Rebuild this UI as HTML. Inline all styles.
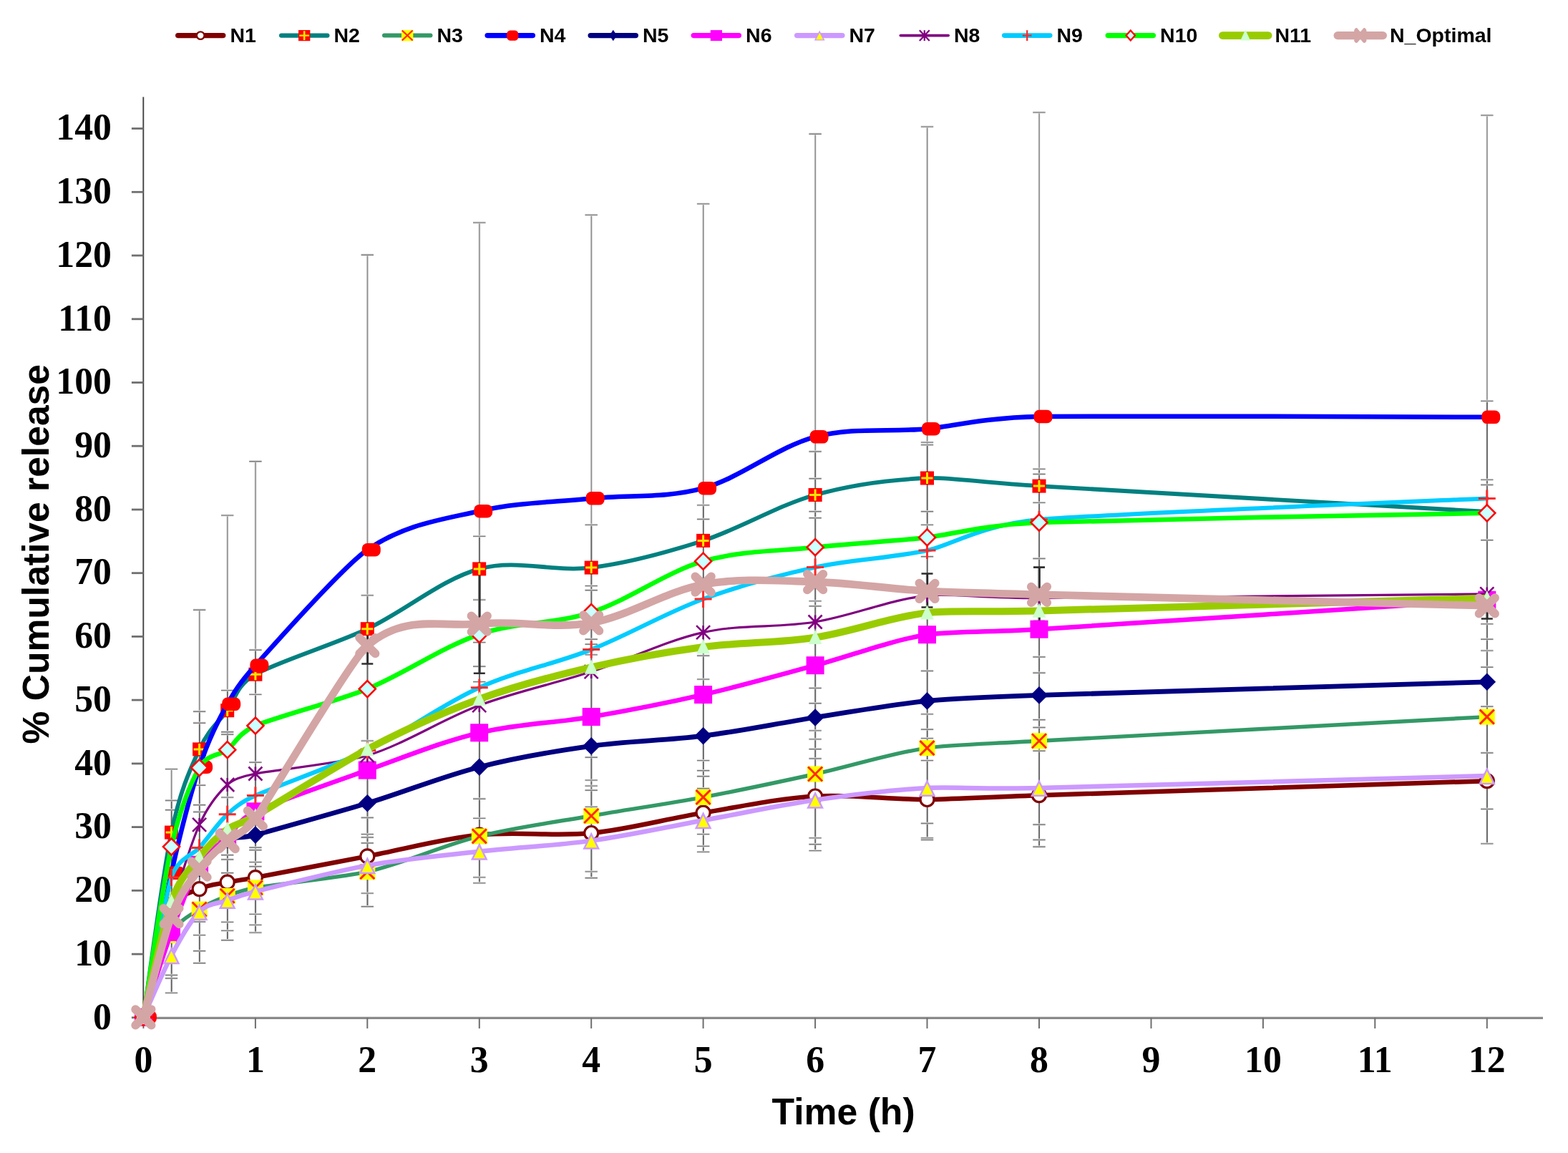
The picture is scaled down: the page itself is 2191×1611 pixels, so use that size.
<!DOCTYPE html>
<html lang="en"><head><meta charset="utf-8"><title>% Cumulative release vs Time (h)</title>
<style>html,body{margin:0;padding:0;background:#fff;}body{width:2191px;height:1611px;overflow:hidden;}svg{display:block;}.ns path,.ns circle{vector-effect:non-scaling-stroke;stroke-width:2.3px;}</style>
</head><body>
<svg width="2191" height="1611" viewBox="0 0 2191 1611">
<rect width="2191" height="1611" fill="#fff"/>
<g fill="none">
<path d="M200.3 135.5V1422.8" stroke-width="1.9" stroke="#424242"/>
<path d="M199.4 1422.3H2156" stroke-width="3.2" stroke="#8a8a8a"/>
<path d="M183.9 1421.8H200.4" stroke-width="2.8" stroke="#6f6f6f"/>
<path d="M183.9 1333.1H200.4" stroke-width="2.8" stroke="#6f6f6f"/>
<path d="M183.9 1244.3H200.4" stroke-width="2.8" stroke="#6f6f6f"/>
<path d="M183.9 1155.6H200.4" stroke-width="2.8" stroke="#6f6f6f"/>
<path d="M183.9 1066.9H200.4" stroke-width="2.8" stroke="#6f6f6f"/>
<path d="M183.9 978.1H200.4" stroke-width="2.8" stroke="#6f6f6f"/>
<path d="M183.9 889.4H200.4" stroke-width="2.8" stroke="#6f6f6f"/>
<path d="M183.9 800.7H200.4" stroke-width="2.8" stroke="#6f6f6f"/>
<path d="M183.9 712.0H200.4" stroke-width="2.8" stroke="#6f6f6f"/>
<path d="M183.9 623.2H200.4" stroke-width="2.8" stroke="#6f6f6f"/>
<path d="M183.9 534.5H200.4" stroke-width="2.8" stroke="#6f6f6f"/>
<path d="M183.9 445.8H200.4" stroke-width="2.8" stroke="#6f6f6f"/>
<path d="M183.9 357.0H200.4" stroke-width="2.8" stroke="#6f6f6f"/>
<path d="M183.9 268.3H200.4" stroke-width="2.8" stroke="#6f6f6f"/>
<path d="M183.9 179.6H200.4" stroke-width="2.8" stroke="#6f6f6f"/>
<path d="M200.4 1422.3V1437.0" stroke-width="2" stroke="#6e6e6e"/>
<path d="M356.9 1422.3V1437.0" stroke-width="2" stroke="#6e6e6e"/>
<path d="M513.3 1422.3V1437.0" stroke-width="2" stroke="#6e6e6e"/>
<path d="M669.8 1422.3V1437.0" stroke-width="2" stroke="#6e6e6e"/>
<path d="M826.2 1422.3V1437.0" stroke-width="2" stroke="#6e6e6e"/>
<path d="M982.6 1422.3V1437.0" stroke-width="2" stroke="#6e6e6e"/>
<path d="M1139.1 1422.3V1437.0" stroke-width="2" stroke="#6e6e6e"/>
<path d="M1295.5 1422.3V1437.0" stroke-width="2" stroke="#6e6e6e"/>
<path d="M1452.0 1422.3V1437.0" stroke-width="2" stroke="#6e6e6e"/>
<path d="M1608.5 1422.3V1437.0" stroke-width="2" stroke="#6e6e6e"/>
<path d="M1764.9 1422.3V1437.0" stroke-width="2" stroke="#6e6e6e"/>
<path d="M1921.3 1422.3V1437.0" stroke-width="2" stroke="#6e6e6e"/>
<path d="M2077.8 1422.3V1437.0" stroke-width="2" stroke="#6e6e6e"/>
</g>
<g font-family="'Liberation Serif','Times New Roman',serif" font-weight="bold" font-size="51.8" fill="#000">
<text x="156" y="1437.5" text-anchor="end">0</text>
<text x="156" y="1348.8" text-anchor="end">10</text>
<text x="156" y="1260.0" text-anchor="end">20</text>
<text x="156" y="1171.3" text-anchor="end">30</text>
<text x="156" y="1082.6" text-anchor="end">40</text>
<text x="156" y="993.9" text-anchor="end">50</text>
<text x="156" y="905.1" text-anchor="end">60</text>
<text x="156" y="816.4" text-anchor="end">70</text>
<text x="156" y="727.7" text-anchor="end">80</text>
<text x="156" y="638.9" text-anchor="end">90</text>
<text x="156" y="550.2" text-anchor="end">100</text>
<text x="156" y="461.5" text-anchor="end">110</text>
<text x="156" y="372.7" text-anchor="end">120</text>
<text x="156" y="284.0" text-anchor="end">130</text>
<text x="156" y="195.3" text-anchor="end">140</text>
<text x="200.4" y="1498.3" text-anchor="middle">0</text>
<text x="356.9" y="1498.3" text-anchor="middle">1</text>
<text x="513.3" y="1498.3" text-anchor="middle">2</text>
<text x="669.8" y="1498.3" text-anchor="middle">3</text>
<text x="826.2" y="1498.3" text-anchor="middle">4</text>
<text x="982.6" y="1498.3" text-anchor="middle">5</text>
<text x="1139.1" y="1498.3" text-anchor="middle">6</text>
<text x="1295.5" y="1498.3" text-anchor="middle">7</text>
<text x="1452.0" y="1498.3" text-anchor="middle">8</text>
<text x="1608.5" y="1498.3" text-anchor="middle">9</text>
<text x="1764.9" y="1498.3" text-anchor="middle">10</text>
<text x="1921.3" y="1498.3" text-anchor="middle">11</text>
<text x="2077.8" y="1498.3" text-anchor="middle">12</text>
</g>
<g font-family="'Liberation Sans',Arial,sans-serif" font-weight="bold" fill="#000">
<text x="1178.6" y="1571" font-size="51.7" text-anchor="middle">Time (h)</text>
<text transform="translate(68,774.3) rotate(-90)" font-size="51.6" text-anchor="middle">% Cumulative release</text>
</g>
<g fill="none"><path d="M239.5 1074.8V1387.6M278.6 852.5V1345.9M317.7 720.3V1313.9M356.9 644.9V1303.3M513.3 356.5V1266.9M669.8 311.3V1234.1M826.2 300.6V1227.0M982.6 285.1V1190.6M1139.1 187.4V1188.8M1295.5 177.3V1173.7M1452.0 157.3V1183.5M2077.8 161.3V1179.1" stroke="#dadada" stroke-width="2.8"/><path d="M239.5 1074.8V1387.6M278.6 852.5V1345.9M317.7 720.3V1313.9M356.9 644.9V1303.3M513.3 356.5V1266.9M669.8 311.3V1234.1M826.2 300.6V1227.0M982.6 285.1V1190.6M1139.1 187.4V1188.8M1295.5 177.3V1173.7M1452.0 157.3V1183.5M2077.8 161.3V1179.1" stroke="#8e8e8e" stroke-width="1.5" transform="translate(0.2,0)"/><path d="M239.5 1118.7V1387.6M278.6 994.5V1345.9M317.7 964.8V1313.9M356.9 908.4V1303.3M513.3 832.1V1266.9M669.8 749.6V1234.1M826.2 733.6V1227.0M982.6 706.1V1190.6M1139.1 631.2V1188.8M1295.5 618.3V1173.7M1452.0 655.6V1183.5M2077.8 560.6V1179.1" stroke="#636363" stroke-width="1.6" transform="translate(0.2,0)"/><path d="M230.8 1074.8H248.2M230.8 1118.7H248.2M230.8 1132.0H248.2M230.8 1362.7H248.2M230.8 1367.2H248.2M230.8 1387.6H248.2M269.9 852.5H287.3M269.9 994.5H287.3M269.9 1010.5H287.3M269.9 1097.4H287.3M269.9 1124.9H287.3M269.9 1134.7H287.3M269.9 1288.2H287.3M269.9 1306.8H287.3M269.9 1329.0H287.3M269.9 1345.9H287.3M309.0 720.3H326.4M309.0 964.8H326.4M309.0 1022.9H326.4M309.0 1026.5H326.4M309.0 1114.3H326.4M309.0 1195.0H326.4M309.0 1201.2H326.4M309.0 1219.9H326.4M309.0 1288.6H326.4M309.0 1300.6H326.4M309.0 1313.9H326.4M348.2 644.9H365.6M348.2 908.4H365.6M348.2 970.6H365.6M348.2 1065.5H365.6M348.2 1184.4H365.6M348.2 1187.9H365.6M348.2 1204.8H365.6M348.2 1211.0H365.6M348.2 1277.6H365.6M348.2 1292.6H365.6M348.2 1303.3H365.6M504.6 356.5H522.0M504.6 832.1H522.0M504.6 1035.3H522.0M504.6 1142.7H522.0M504.6 1165.8H522.0M504.6 1170.2H522.0M504.6 1178.2H522.0M504.6 1248.3H522.0M504.6 1266.9H522.0M661.0 311.3H678.5M661.0 749.6H678.5M661.0 838.3H678.5M661.0 897.8H678.5M661.0 931.5H678.5M661.0 952.8H678.5M661.0 1116.5H678.5M661.0 1143.6H678.5M661.0 1226.1H678.5M661.0 1234.1H678.5M817.5 300.6H834.9M817.5 733.6H834.9M817.5 818.8H834.9M817.5 825.0H834.9M817.5 893.4H834.9M817.5 900.5H834.9M817.5 915.1H834.9M817.5 1058.4H834.9M817.5 1090.3H834.9M817.5 1098.3H834.9M817.5 1104.5H834.9M817.5 1127.6H834.9M817.5 1218.1H834.9M817.5 1227.0H834.9M973.9 285.1H991.4M973.9 706.1H991.4M973.9 725.7H991.4M973.9 916.4H991.4M973.9 949.3H991.4M973.9 1062.8H991.4M973.9 1077.0H991.4M973.9 1085.0H991.4M973.9 1101.9H991.4M973.9 1165.8H991.4M973.9 1182.6H991.4M973.9 1190.6H991.4M1130.4 187.4H1147.8M1130.4 631.2H1147.8M1130.4 668.9H1147.8M1130.4 715.0H1147.8M1130.4 723.9H1147.8M1130.4 840.1H1147.8M1130.4 847.2H1147.8M1130.4 961.7H1147.8M1130.4 983.0H1147.8M1130.4 1021.1H1147.8M1130.4 1033.1H1147.8M1130.4 1046.9H1147.8M1130.4 1060.2H1147.8M1130.4 1171.1H1147.8M1130.4 1180.0H1147.8M1130.4 1188.8H1147.8M1286.8 177.3H1304.2M1286.8 618.3H1304.2M1286.8 621.8H1304.2M1286.8 715.0H1304.2M1286.8 733.6H1304.2M1286.8 778.0H1304.2M1286.8 937.7H1304.2M1286.8 998.1H1304.2M1286.8 1019.4H1304.2M1286.8 1031.8H1304.2M1286.8 1062.8H1304.2M1286.8 1150.7H1304.2M1286.8 1171.1H1304.2M1286.8 1173.7H1304.2M1443.3 157.3H1460.7M1443.3 655.6H1460.7M1443.3 662.7H1460.7M1443.3 702.6H1460.7M1443.3 780.7H1460.7M1443.3 918.2H1460.7M1443.3 940.4H1460.7M1443.3 1006.0H1460.7M1443.3 1016.7H1460.7M1443.3 1049.5H1460.7M1443.3 1152.4H1460.7M1443.3 1173.7H1460.7M1443.3 1183.5H1460.7M2069.1 161.3H2086.5M2069.1 560.6H2086.5M2069.1 670.6H2086.5M2069.1 677.7H2086.5M2069.1 754.9H2086.5M2069.1 872.1H2086.5M2069.1 893.4H2086.5M2069.1 909.3H2086.5M2069.1 932.4H2086.5M2069.1 987.4H2086.5M2069.1 1052.2H2086.5M2069.1 1130.7H2086.5M2069.1 1179.1H2086.5" stroke="#dedede" stroke-width="3" transform="translate(0,-0.4)"/><path d="M230.8 1074.8H248.2M230.8 1118.7H248.2M230.8 1132.0H248.2M230.8 1362.7H248.2M230.8 1367.2H248.2M230.8 1387.6H248.2M269.9 852.5H287.3M269.9 994.5H287.3M269.9 1010.5H287.3M269.9 1097.4H287.3M269.9 1124.9H287.3M269.9 1134.7H287.3M269.9 1288.2H287.3M269.9 1306.8H287.3M269.9 1329.0H287.3M269.9 1345.9H287.3M309.0 720.3H326.4M309.0 964.8H326.4M309.0 1022.9H326.4M309.0 1026.5H326.4M309.0 1114.3H326.4M309.0 1195.0H326.4M309.0 1201.2H326.4M309.0 1219.9H326.4M309.0 1288.6H326.4M309.0 1300.6H326.4M309.0 1313.9H326.4M348.2 644.9H365.6M348.2 908.4H365.6M348.2 970.6H365.6M348.2 1065.5H365.6M348.2 1184.4H365.6M348.2 1187.9H365.6M348.2 1204.8H365.6M348.2 1211.0H365.6M348.2 1277.6H365.6M348.2 1292.6H365.6M348.2 1303.3H365.6M504.6 356.5H522.0M504.6 832.1H522.0M504.6 1035.3H522.0M504.6 1142.7H522.0M504.6 1165.8H522.0M504.6 1170.2H522.0M504.6 1178.2H522.0M504.6 1248.3H522.0M504.6 1266.9H522.0M661.0 311.3H678.5M661.0 749.6H678.5M661.0 838.3H678.5M661.0 897.8H678.5M661.0 931.5H678.5M661.0 952.8H678.5M661.0 1116.5H678.5M661.0 1143.6H678.5M661.0 1226.1H678.5M661.0 1234.1H678.5M817.5 300.6H834.9M817.5 733.6H834.9M817.5 818.8H834.9M817.5 825.0H834.9M817.5 893.4H834.9M817.5 900.5H834.9M817.5 915.1H834.9M817.5 1058.4H834.9M817.5 1090.3H834.9M817.5 1098.3H834.9M817.5 1104.5H834.9M817.5 1127.6H834.9M817.5 1218.1H834.9M817.5 1227.0H834.9M973.9 285.1H991.4M973.9 706.1H991.4M973.9 725.7H991.4M973.9 916.4H991.4M973.9 949.3H991.4M973.9 1062.8H991.4M973.9 1077.0H991.4M973.9 1085.0H991.4M973.9 1101.9H991.4M973.9 1165.8H991.4M973.9 1182.6H991.4M973.9 1190.6H991.4M1130.4 187.4H1147.8M1130.4 631.2H1147.8M1130.4 668.9H1147.8M1130.4 715.0H1147.8M1130.4 723.9H1147.8M1130.4 840.1H1147.8M1130.4 847.2H1147.8M1130.4 961.7H1147.8M1130.4 983.0H1147.8M1130.4 1021.1H1147.8M1130.4 1033.1H1147.8M1130.4 1046.9H1147.8M1130.4 1060.2H1147.8M1130.4 1171.1H1147.8M1130.4 1180.0H1147.8M1130.4 1188.8H1147.8M1286.8 177.3H1304.2M1286.8 618.3H1304.2M1286.8 621.8H1304.2M1286.8 715.0H1304.2M1286.8 733.6H1304.2M1286.8 778.0H1304.2M1286.8 937.7H1304.2M1286.8 998.1H1304.2M1286.8 1019.4H1304.2M1286.8 1031.8H1304.2M1286.8 1062.8H1304.2M1286.8 1150.7H1304.2M1286.8 1171.1H1304.2M1286.8 1173.7H1304.2M1443.3 157.3H1460.7M1443.3 655.6H1460.7M1443.3 662.7H1460.7M1443.3 702.6H1460.7M1443.3 780.7H1460.7M1443.3 918.2H1460.7M1443.3 940.4H1460.7M1443.3 1006.0H1460.7M1443.3 1016.7H1460.7M1443.3 1049.5H1460.7M1443.3 1152.4H1460.7M1443.3 1173.7H1460.7M1443.3 1183.5H1460.7M2069.1 161.3H2086.5M2069.1 560.6H2086.5M2069.1 670.6H2086.5M2069.1 677.7H2086.5M2069.1 754.9H2086.5M2069.1 872.1H2086.5M2069.1 893.4H2086.5M2069.1 909.3H2086.5M2069.1 932.4H2086.5M2069.1 987.4H2086.5M2069.1 1052.2H2086.5M2069.1 1130.7H2086.5M2069.1 1179.1H2086.5" stroke="#7c7c7c" stroke-width="1.4" transform="translate(0,-0.2)"/><path d="M513.3 876.5V928.0M669.8 800.2V941.3M1295.5 802.0V849.0M1452.0 793.1V868.5M2077.8 827.7V865.0" stroke="#666" stroke-width="3.2"/><path d="M513.3 876.5V928.0M669.8 800.2V941.3M1295.5 802.0V849.0M1452.0 793.1V868.5M2077.8 827.7V865.0" stroke="#1c1c1c" stroke-width="1.8" transform="translate(0.7,0)"/><path d="M505.3 876.5H521.3M505.3 928.0H521.3M661.8 800.2H677.8M661.8 941.3H677.8M1287.5 802.0H1303.5M1287.5 849.0H1303.5M1444.0 793.1H1460.0M1444.0 868.5H1460.0M2069.8 827.7H2085.8M2069.8 865.0H2085.8" stroke="#2e2e2e" stroke-width="2.6" transform="translate(0,-0.5)"/></g>
<g><path d="M200.4 1421.3 C205.2 1402.7 229.8 1292.6 239.5 1270.5 C249.2 1248.3 269.0 1246.7 278.6 1242.1 C291.7 1235.8 304.7 1235.4 317.7 1232.7 C325.5 1231.2 337.3 1229.7 356.9 1226.1 C376.4 1222.5 482.1 1202.3 513.3 1196.4 C565.4 1186.5 617.6 1172.0 669.8 1166.6 C721.9 1161.2 774.0 1169.2 826.2 1164.0 C878.3 1158.8 930.5 1144.2 982.6 1135.6 C1034.8 1127.0 1086.9 1115.6 1139.1 1112.5 C1191.2 1109.4 1243.4 1117.2 1295.5 1117.0 C1326.8 1116.8 1373.8 1113.8 1452.0 1111.2 C1530.2 1108.6 2015.2 1093.2 2077.8 1091.2" stroke="#800000" stroke-width="6.5" fill="none" stroke-linecap="round" stroke-linejoin="round"/><circle cx="200.4" cy="1421.3" r="9.5" fill="#fff" stroke="#800000" stroke-width="3.2"/><circle cx="239.5" cy="1270.5" r="9.5" fill="#fff" stroke="#800000" stroke-width="3.2"/><circle cx="278.6" cy="1242.1" r="9.5" fill="#fff" stroke="#800000" stroke-width="3.2"/><circle cx="317.7" cy="1232.7" r="9.5" fill="#fff" stroke="#800000" stroke-width="3.2"/><circle cx="356.9" cy="1226.1" r="9.5" fill="#fff" stroke="#800000" stroke-width="3.2"/><circle cx="513.3" cy="1196.4" r="9.5" fill="#fff" stroke="#800000" stroke-width="3.2"/><circle cx="669.8" cy="1166.6" r="9.5" fill="#fff" stroke="#800000" stroke-width="3.2"/><circle cx="826.2" cy="1164.0" r="9.5" fill="#fff" stroke="#800000" stroke-width="3.2"/><circle cx="982.6" cy="1135.6" r="9.5" fill="#fff" stroke="#800000" stroke-width="3.2"/><circle cx="1139.1" cy="1112.5" r="9.5" fill="#fff" stroke="#800000" stroke-width="3.2"/><circle cx="1295.5" cy="1117.0" r="9.5" fill="#fff" stroke="#800000" stroke-width="3.2"/><circle cx="1452.0" cy="1111.2" r="9.5" fill="#fff" stroke="#800000" stroke-width="3.2"/><circle cx="2077.8" cy="1091.2" r="9.5" fill="#fff" stroke="#800000" stroke-width="3.2"/></g>
<g><path d="M200.4 1421.3 C206.7 1379.9 227.0 1223.1 239.5 1163.1 C252.1 1103.1 266.1 1074.2 278.6 1046.9 C291.7 1018.5 304.7 1010.2 317.7 992.7 C328.8 977.9 329.2 958.3 356.9 942.2 C384.5 926.1 469.1 899.5 513.3 878.7 C565.4 854.2 617.6 809.1 669.8 794.9 C721.9 780.6 774.0 799.7 826.2 793.1 C878.3 786.5 930.5 772.3 982.6 755.4 C1034.8 738.4 1086.9 706.1 1139.1 691.5 C1191.2 676.9 1243.4 670.1 1295.5 668.0 C1326.9 666.7 1373.7 674.4 1452.0 679.1 C1530.3 683.8 2015.2 711.4 2077.8 715.0" stroke="#008080" stroke-width="5.8" fill="none" stroke-linecap="round" stroke-linejoin="round"/><rect x="190.9" y="1411.8" width="19.0" height="19.0" fill="#ff0000"/><path d="M192.4 1421.3H208.4M200.4 1413.3V1429.3" stroke="#ffe600" stroke-width="3.0" fill="none"/><rect x="230.0" y="1153.6" width="19.0" height="19.0" fill="#ff0000"/><path d="M231.5 1163.1H247.5M239.5 1155.1V1171.1" stroke="#ffe600" stroke-width="3.0" fill="none"/><rect x="269.1" y="1037.4" width="19.0" height="19.0" fill="#ff0000"/><path d="M270.6 1046.9H286.6M278.6 1038.9V1054.9" stroke="#ffe600" stroke-width="3.0" fill="none"/><rect x="308.2" y="983.2" width="19.0" height="19.0" fill="#ff0000"/><path d="M309.7 992.7H325.7M317.7 984.7V1000.7" stroke="#ffe600" stroke-width="3.0" fill="none"/><rect x="347.4" y="932.7" width="19.0" height="19.0" fill="#ff0000"/><path d="M348.9 942.2H364.9M356.9 934.2V950.2" stroke="#ffe600" stroke-width="3.0" fill="none"/><rect x="503.8" y="869.2" width="19.0" height="19.0" fill="#ff0000"/><path d="M505.3 878.7H521.3M513.3 870.7V886.7" stroke="#ffe600" stroke-width="3.0" fill="none"/><rect x="660.2" y="785.4" width="19.0" height="19.0" fill="#ff0000"/><path d="M661.8 794.9H677.8M669.8 786.9V802.9" stroke="#ffe600" stroke-width="3.0" fill="none"/><rect x="816.7" y="783.6" width="19.0" height="19.0" fill="#ff0000"/><path d="M818.2 793.1H834.2M826.2 785.1V801.1" stroke="#ffe600" stroke-width="3.0" fill="none"/><rect x="973.1" y="745.9" width="19.0" height="19.0" fill="#ff0000"/><path d="M974.6 755.4H990.6M982.6 747.4V763.4" stroke="#ffe600" stroke-width="3.0" fill="none"/><rect x="1129.6" y="682.0" width="19.0" height="19.0" fill="#ff0000"/><path d="M1131.1 691.5H1147.1M1139.1 683.5V699.5" stroke="#ffe600" stroke-width="3.0" fill="none"/><rect x="1286.0" y="658.5" width="19.0" height="19.0" fill="#ff0000"/><path d="M1287.5 668.0H1303.5M1295.5 660.0V676.0" stroke="#ffe600" stroke-width="3.0" fill="none"/><rect x="1442.5" y="669.6" width="19.0" height="19.0" fill="#ff0000"/><path d="M1444.0 679.1H1460.0M1452.0 671.1V687.1" stroke="#ffe600" stroke-width="3.0" fill="none"/></g>
<g><path d="M200.4 1421.3 C206.5 1403.3 227.2 1330.5 239.5 1306.8 C251.8 1283.1 266.3 1279.1 278.6 1270.5 C291.7 1261.3 304.7 1256.9 317.7 1251.8 C325.8 1248.7 336.8 1243.8 356.9 1240.3 C376.9 1236.8 481.2 1225.5 513.3 1218.1 C565.4 1206.1 617.6 1181.4 669.8 1168.4 C721.9 1155.4 774.0 1149.1 826.2 1140.0 C878.3 1130.9 930.5 1123.6 982.6 1113.9 C1034.8 1104.1 1086.9 1092.9 1139.1 1081.5 C1191.2 1070.0 1243.4 1052.8 1295.5 1045.1 C1326.9 1040.5 1373.7 1039.7 1452.0 1035.3 C1530.3 1031.0 2015.2 1005.0 2077.8 1001.6" stroke="#339966" stroke-width="5.4" fill="none" stroke-linecap="round" stroke-linejoin="round"/><rect x="189.4" y="1410.3" width="22.0" height="22.0" fill="#ffff00"/><path d="M190.4 1411.3L210.4 1431.3M190.4 1431.3L210.4 1411.3" stroke="#ff2a00" stroke-width="3.0" fill="none"/><rect x="228.5" y="1295.8" width="22.0" height="22.0" fill="#ffff00"/><path d="M229.5 1296.8L249.5 1316.8M229.5 1316.8L249.5 1296.8" stroke="#ff2a00" stroke-width="3.0" fill="none"/><rect x="267.6" y="1259.5" width="22.0" height="22.0" fill="#ffff00"/><path d="M268.6 1260.5L288.6 1280.5M268.6 1280.5L288.6 1260.5" stroke="#ff2a00" stroke-width="3.0" fill="none"/><rect x="306.7" y="1240.8" width="22.0" height="22.0" fill="#ffff00"/><path d="M307.7 1241.8L327.7 1261.8M307.7 1261.8L327.7 1241.8" stroke="#ff2a00" stroke-width="3.0" fill="none"/><rect x="345.9" y="1229.3" width="22.0" height="22.0" fill="#ffff00"/><path d="M346.9 1230.3L366.9 1250.3M346.9 1250.3L366.9 1230.3" stroke="#ff2a00" stroke-width="3.0" fill="none"/><rect x="502.3" y="1207.1" width="22.0" height="22.0" fill="#ffff00"/><path d="M503.3 1208.1L523.3 1228.1M503.3 1228.1L523.3 1208.1" stroke="#ff2a00" stroke-width="3.0" fill="none"/><rect x="658.8" y="1157.4" width="22.0" height="22.0" fill="#ffff00"/><path d="M659.8 1158.4L679.8 1178.4M659.8 1178.4L679.8 1158.4" stroke="#ff2a00" stroke-width="3.0" fill="none"/><rect x="815.2" y="1129.0" width="22.0" height="22.0" fill="#ffff00"/><path d="M816.2 1130.0L836.2 1150.0M816.2 1150.0L836.2 1130.0" stroke="#ff2a00" stroke-width="3.0" fill="none"/><rect x="971.6" y="1102.9" width="22.0" height="22.0" fill="#ffff00"/><path d="M972.6 1103.9L992.6 1123.9M972.6 1123.9L992.6 1103.9" stroke="#ff2a00" stroke-width="3.0" fill="none"/><rect x="1128.1" y="1070.5" width="22.0" height="22.0" fill="#ffff00"/><path d="M1129.1 1071.5L1149.1 1091.5M1129.1 1091.5L1149.1 1071.5" stroke="#ff2a00" stroke-width="3.0" fill="none"/><rect x="1284.5" y="1034.1" width="22.0" height="22.0" fill="#ffff00"/><path d="M1285.5 1035.1L1305.5 1055.1M1285.5 1055.1L1305.5 1035.1" stroke="#ff2a00" stroke-width="3.0" fill="none"/><rect x="1441.0" y="1024.3" width="22.0" height="22.0" fill="#ffff00"/><path d="M1442.0 1025.3L1462.0 1045.3M1442.0 1045.3L1462.0 1025.3" stroke="#ff2a00" stroke-width="3.0" fill="none"/><rect x="2066.8" y="990.6" width="22.0" height="22.0" fill="#ffff00"/><path d="M2067.8 991.6L2087.8 1011.6M2067.8 1011.6L2087.8 991.6" stroke="#ff2a00" stroke-width="3.0" fill="none"/></g>
<g><path d="M200.4 1421.3 C206.9 1387.7 226.5 1278.1 239.5 1219.9 C252.5 1161.6 265.6 1111.0 278.6 1071.7 C291.7 1032.4 304.7 1007.5 317.7 983.9 C326.7 967.6 334.4 954.5 356.9 929.7 C379.3 905.0 477.4 793.0 513.3 768.2 C565.4 732.3 617.6 726.1 669.8 714.1 C721.9 702.1 774.0 701.7 826.2 696.4 C878.3 691.1 930.5 696.5 982.6 682.2 C1034.8 667.8 1086.9 624.1 1139.1 610.3 C1191.2 596.5 1243.4 603.9 1295.5 599.2 C1327.0 596.4 1373.3 583.6 1452.0 581.9 C1530.7 580.3 2014.9 582.7 2077.8 582.8" stroke="#0000ff" stroke-width="6.5" fill="none" stroke-linecap="round" stroke-linejoin="round"/><rect x="192.9" y="1412.0" width="26.0" height="18.5" rx="7.5" fill="#ff0000"/><rect x="232.0" y="1210.6" width="26.0" height="18.5" rx="7.5" fill="#ff0000"/><rect x="271.1" y="1062.5" width="26.0" height="18.5" rx="7.5" fill="#ff0000"/><rect x="310.2" y="974.6" width="26.0" height="18.5" rx="7.5" fill="#ff0000"/><rect x="349.4" y="920.5" width="26.0" height="18.5" rx="7.5" fill="#ff0000"/><rect x="505.8" y="759.0" width="26.0" height="18.5" rx="7.5" fill="#ff0000"/><rect x="662.2" y="704.9" width="26.0" height="18.5" rx="7.5" fill="#ff0000"/><rect x="818.7" y="687.1" width="26.0" height="18.5" rx="7.5" fill="#ff0000"/><rect x="975.1" y="672.9" width="26.0" height="18.5" rx="7.5" fill="#ff0000"/><rect x="1131.6" y="601.1" width="26.0" height="18.5" rx="7.5" fill="#ff0000"/><rect x="1288.0" y="590.0" width="26.0" height="18.5" rx="7.5" fill="#ff0000"/><rect x="1444.5" y="572.7" width="26.0" height="18.5" rx="7.5" fill="#ff0000"/><rect x="2070.3" y="573.6" width="26.0" height="18.5" rx="7.5" fill="#ff0000"/></g>
<g><path d="M200.4 1421.3 C206.9 1397.3 226.5 1312.2 239.5 1277.6 C252.5 1242.9 265.6 1230.6 278.6 1213.2 C291.7 1195.9 304.7 1181.1 317.7 1173.3 C325.4 1168.7 337.7 1171.7 356.9 1166.6 C376.0 1161.6 482.6 1131.6 513.3 1122.3 C565.4 1106.5 617.6 1085.0 669.8 1071.7 C721.9 1058.4 774.0 1049.7 826.2 1042.4 C878.3 1035.2 930.5 1034.9 982.6 1028.2 C1034.8 1021.6 1086.9 1010.6 1139.1 1002.5 C1191.2 994.4 1243.4 984.6 1295.5 979.4 C1326.9 976.3 1373.7 974.1 1452.0 971.4 C1530.3 968.8 2015.2 954.7 2077.8 952.8" stroke="#000080" stroke-width="6.8" fill="none" stroke-linecap="round" stroke-linejoin="round"/><path d="M200.4 1409.0L212.7 1421.3L200.4 1433.6L188.1 1421.3Z" fill="#000080"/><path d="M239.5 1265.3L251.8 1277.6L239.5 1289.9L227.2 1277.6Z" fill="#000080"/><path d="M278.6 1200.9L290.9 1213.2L278.6 1225.5L266.3 1213.2Z" fill="#000080"/><path d="M317.7 1161.0L330.0 1173.3L317.7 1185.6L305.4 1173.3Z" fill="#000080"/><path d="M356.9 1154.3L369.2 1166.6L356.9 1178.9L344.6 1166.6Z" fill="#000080"/><path d="M513.3 1110.0L525.6 1122.3L513.3 1134.6L501.0 1122.3Z" fill="#000080"/><path d="M669.8 1059.4L682.0 1071.7L669.8 1084.0L657.5 1071.7Z" fill="#000080"/><path d="M826.2 1030.1L838.5 1042.4L826.2 1054.7L813.9 1042.4Z" fill="#000080"/><path d="M982.6 1015.9L994.9 1028.2L982.6 1040.5L970.4 1028.2Z" fill="#000080"/><path d="M1139.1 990.2L1151.4 1002.5L1139.1 1014.8L1126.8 1002.5Z" fill="#000080"/><path d="M1295.5 967.1L1307.8 979.4L1295.5 991.7L1283.2 979.4Z" fill="#000080"/><path d="M1452.0 959.1L1464.3 971.4L1452.0 983.7L1439.7 971.4Z" fill="#000080"/><path d="M2077.8 940.5L2090.1 952.8L2077.8 965.1L2065.5 952.8Z" fill="#000080"/></g>
<g><path d="M200.4 1421.3 C206.9 1401.5 226.5 1337.9 239.5 1302.4 C252.5 1266.9 265.6 1230.4 278.6 1208.3 C291.7 1186.3 304.7 1182.6 317.7 1170.2 C327.4 1161.0 332.8 1145.4 356.9 1133.8 C380.9 1122.2 474.8 1089.7 513.3 1076.1 C565.4 1057.8 617.6 1036.2 669.8 1023.8 C721.9 1011.4 774.0 1010.5 826.2 1001.6 C878.3 992.7 930.5 982.5 982.6 970.6 C1034.8 958.6 1086.9 943.7 1139.1 929.7 C1191.2 915.8 1243.4 895.1 1295.5 886.7 C1326.8 881.6 1373.8 884.0 1452.0 879.2 C1530.2 874.3 2015.3 842.4 2077.8 838.3" stroke="#ff00ff" stroke-width="6.5" fill="none" stroke-linecap="round" stroke-linejoin="round"/><rect x="187.9" y="1408.8" width="25.0" height="25.0" fill="#ff00ff"/><rect x="227.0" y="1289.9" width="25.0" height="25.0" fill="#ff00ff"/><rect x="266.1" y="1195.8" width="25.0" height="25.0" fill="#ff00ff"/><rect x="305.2" y="1157.7" width="25.0" height="25.0" fill="#ff00ff"/><rect x="344.4" y="1121.3" width="25.0" height="25.0" fill="#ff00ff"/><rect x="500.8" y="1063.6" width="25.0" height="25.0" fill="#ff00ff"/><rect x="657.2" y="1011.3" width="25.0" height="25.0" fill="#ff00ff"/><rect x="813.7" y="989.1" width="25.0" height="25.0" fill="#ff00ff"/><rect x="970.1" y="958.1" width="25.0" height="25.0" fill="#ff00ff"/><rect x="1126.6" y="917.2" width="25.0" height="25.0" fill="#ff00ff"/><rect x="1283.0" y="874.2" width="25.0" height="25.0" fill="#ff00ff"/><rect x="1439.5" y="866.7" width="25.0" height="25.0" fill="#ff00ff"/><rect x="2065.3" y="825.8" width="25.0" height="25.0" fill="#ff00ff"/></g>
<g><path d="M200.4 1421.3 C206.9 1407.0 226.5 1359.8 239.5 1335.2 C252.5 1310.7 265.6 1286.9 278.6 1274.0 C291.7 1261.1 304.7 1262.8 317.7 1258.0 C325.7 1255.1 336.9 1250.6 356.9 1245.6 C376.8 1240.6 481.4 1214.9 513.3 1209.2 C565.4 1199.9 617.6 1195.5 669.8 1189.7 C721.9 1183.9 774.0 1181.9 826.2 1174.6 C878.3 1167.4 930.5 1155.7 982.6 1146.2 C1034.8 1136.8 1086.9 1125.4 1139.1 1117.8 C1191.2 1110.3 1243.4 1103.8 1295.5 1101.0 C1326.8 1099.3 1373.8 1102.7 1452.0 1101.0 C1530.2 1099.3 2015.2 1085.8 2077.8 1084.1" stroke="#cc99ff" stroke-width="6.5" fill="none" stroke-linecap="round" stroke-linejoin="round"/><path d="M200.4 1412.0L210.3 1432.0L190.5 1432.0Z" fill="#ffff00" stroke="#cc99ff" stroke-width="2.5" stroke-linejoin="miter"/><path d="M239.5 1325.9L249.4 1346.0L229.6 1346.0Z" fill="#ffff00" stroke="#cc99ff" stroke-width="2.5" stroke-linejoin="miter"/><path d="M278.6 1264.7L288.5 1284.8L268.7 1284.8Z" fill="#ffff00" stroke="#cc99ff" stroke-width="2.5" stroke-linejoin="miter"/><path d="M317.7 1248.7L327.6 1268.8L307.8 1268.8Z" fill="#ffff00" stroke="#cc99ff" stroke-width="2.5" stroke-linejoin="miter"/><path d="M356.9 1236.3L366.8 1256.4L347.0 1256.4Z" fill="#ffff00" stroke="#cc99ff" stroke-width="2.5" stroke-linejoin="miter"/><path d="M513.3 1199.9L523.2 1220.0L503.4 1220.0Z" fill="#ffff00" stroke="#cc99ff" stroke-width="2.5" stroke-linejoin="miter"/><path d="M669.8 1180.4L679.6 1200.5L659.9 1200.5Z" fill="#ffff00" stroke="#cc99ff" stroke-width="2.5" stroke-linejoin="miter"/><path d="M826.2 1165.3L836.1 1185.4L816.3 1185.4Z" fill="#ffff00" stroke="#cc99ff" stroke-width="2.5" stroke-linejoin="miter"/><path d="M982.6 1136.9L992.5 1157.0L972.8 1157.0Z" fill="#ffff00" stroke="#cc99ff" stroke-width="2.5" stroke-linejoin="miter"/><path d="M1139.1 1108.5L1149.0 1128.6L1129.2 1128.6Z" fill="#ffff00" stroke="#cc99ff" stroke-width="2.5" stroke-linejoin="miter"/><path d="M1295.5 1091.7L1305.5 1111.7L1285.6 1111.7Z" fill="#ffff00" stroke="#cc99ff" stroke-width="2.5" stroke-linejoin="miter"/><path d="M1452.0 1091.7L1461.9 1111.7L1442.1 1111.7Z" fill="#ffff00" stroke="#cc99ff" stroke-width="2.5" stroke-linejoin="miter"/><path d="M2077.8 1074.8L2087.7 1094.9L2067.9 1094.9Z" fill="#ffff00" stroke="#cc99ff" stroke-width="2.5" stroke-linejoin="miter"/></g>
<g><path d="M200.4 1421.3 C206.9 1396.2 226.5 1315.3 239.5 1270.5 C252.5 1225.7 265.6 1181.4 278.6 1152.4 C291.7 1123.5 304.7 1108.5 317.7 1096.5 C326.0 1089.0 336.3 1085.3 356.9 1081.0 C377.4 1076.7 480.3 1065.8 513.3 1055.7 C565.4 1039.8 617.6 1005.2 669.8 985.6 C721.9 966.1 774.0 955.6 826.2 938.6 C878.3 921.6 930.5 895.2 982.6 883.6 C1034.8 872.0 1086.9 877.5 1139.1 869.0 C1191.2 860.4 1243.4 837.7 1295.5 832.1 C1326.8 828.8 1373.8 835.9 1452.0 835.7 C1530.2 835.5 2015.2 830.5 2077.8 829.9" stroke="#800080" stroke-width="3.2" fill="none" stroke-linecap="round" stroke-linejoin="round"/><path d="M190.9 1411.8L209.9 1430.8M190.9 1430.8L209.9 1411.8M200.4 1411.8V1430.8" stroke="#800080" stroke-width="2.6" fill="none"/><path d="M230.0 1261.0L249.0 1280.0M230.0 1280.0L249.0 1261.0M239.5 1261.0V1280.0" stroke="#800080" stroke-width="2.6" fill="none"/><path d="M269.1 1142.9L288.1 1161.9M269.1 1161.9L288.1 1142.9M278.6 1142.9V1161.9" stroke="#800080" stroke-width="2.6" fill="none"/><path d="M308.2 1087.0L327.2 1106.0M308.2 1106.0L327.2 1087.0M317.7 1087.0V1106.0" stroke="#800080" stroke-width="2.6" fill="none"/><path d="M347.4 1071.5L366.4 1090.5M347.4 1090.5L366.4 1071.5M356.9 1071.5V1090.5" stroke="#800080" stroke-width="2.6" fill="none"/><path d="M503.8 1046.2L522.8 1065.2M503.8 1065.2L522.8 1046.2M513.3 1046.2V1065.2" stroke="#800080" stroke-width="2.6" fill="none"/><path d="M660.2 976.1L679.2 995.1M660.2 995.1L679.2 976.1M669.8 976.1V995.1" stroke="#800080" stroke-width="2.6" fill="none"/><path d="M816.7 929.1L835.7 948.1M816.7 948.1L835.7 929.1M826.2 929.1V948.1" stroke="#800080" stroke-width="2.6" fill="none"/><path d="M973.1 874.1L992.1 893.1M973.1 893.1L992.1 874.1M982.6 874.1V893.1" stroke="#800080" stroke-width="2.6" fill="none"/><path d="M1129.6 859.5L1148.6 878.5M1129.6 878.5L1148.6 859.5M1139.1 859.5V878.5" stroke="#800080" stroke-width="2.6" fill="none"/><path d="M1286.0 822.6L1305.0 841.6M1286.0 841.6L1305.0 822.6M1295.5 822.6V841.6" stroke="#800080" stroke-width="2.6" fill="none"/><path d="M1442.5 826.2L1461.5 845.2M1442.5 845.2L1461.5 826.2M1452.0 826.2V845.2" stroke="#800080" stroke-width="2.6" fill="none"/><path d="M2068.3 820.4L2087.3 839.4M2068.3 839.4L2087.3 820.4M2077.8 820.4V839.4" stroke="#800080" stroke-width="2.6" fill="none"/></g>
<g><path d="M200.4 1421.3 C204.9 1398.9 230.5 1253.2 239.5 1226.1 C248.5 1198.9 269.7 1194.5 278.6 1184.4 C291.7 1169.7 304.7 1149.9 317.7 1137.8 C326.3 1129.8 335.4 1121.4 356.9 1111.6 C378.3 1101.9 479.0 1065.1 513.3 1048.6 C565.4 1023.5 617.6 984.3 669.8 960.8 C721.9 937.3 774.0 928.2 826.2 907.6 C878.3 886.9 930.5 856.2 982.6 837.0 C1034.8 817.9 1086.9 804.0 1139.1 792.6 C1191.2 781.3 1243.4 780.2 1295.5 769.1 C1327.9 762.3 1371.2 733.6 1452.0 726.1 C1532.8 718.6 2013.2 699.4 2077.8 696.4" stroke="#00ccff" stroke-width="6.0" fill="none" stroke-linecap="round" stroke-linejoin="round"/><path d="M188.4 1421.3H212.4M200.4 1409.3V1433.3" stroke="#ff2a2a" stroke-width="3.0" fill="none"/><path d="M227.5 1226.1H251.5M239.5 1214.1V1238.1" stroke="#ff2a2a" stroke-width="3.0" fill="none"/><path d="M266.6 1184.4H290.6M278.6 1172.4V1196.4" stroke="#ff2a2a" stroke-width="3.0" fill="none"/><path d="M305.7 1137.8H329.7M317.7 1125.8V1149.8" stroke="#ff2a2a" stroke-width="3.0" fill="none"/><path d="M344.9 1111.6H368.9M356.9 1099.6V1123.6" stroke="#ff2a2a" stroke-width="3.0" fill="none"/><path d="M501.3 1048.6H525.3M513.3 1036.6V1060.6" stroke="#ff2a2a" stroke-width="3.0" fill="none"/><path d="M657.8 960.8H681.8M669.8 948.8V972.8" stroke="#ff2a2a" stroke-width="3.0" fill="none"/><path d="M814.2 907.6H838.2M826.2 895.6V919.6" stroke="#ff2a2a" stroke-width="3.0" fill="none"/><path d="M970.6 837.0H994.6M982.6 825.0V849.0" stroke="#ff2a2a" stroke-width="3.0" fill="none"/><path d="M1127.1 792.6H1151.1M1139.1 780.6V804.6" stroke="#ff2a2a" stroke-width="3.0" fill="none"/><path d="M1283.5 769.1H1307.5M1295.5 757.1V781.1" stroke="#ff2a2a" stroke-width="3.0" fill="none"/><path d="M1440.0 726.1H1464.0M1452.0 714.1V738.1" stroke="#ff2a2a" stroke-width="3.0" fill="none"/><path d="M2065.8 696.4H2089.8M2077.8 684.4V708.4" stroke="#ff2a2a" stroke-width="3.0" fill="none"/></g>
<g><path d="M200.4 1421.3 C206.8 1382.2 226.7 1240.2 239.5 1183.1 C251.1 1131.4 267.0 1092.6 278.6 1072.6 C290.2 1052.5 306.1 1056.4 317.7 1047.7 C327.2 1040.7 333.2 1024.3 356.9 1014.0 C380.5 1003.7 475.4 978.0 513.3 962.6 C565.4 941.3 617.6 904.1 669.8 886.3 C721.9 868.4 774.0 872.7 826.2 855.6 C878.3 838.6 930.5 799.4 982.6 784.2 C1034.8 769.1 1086.9 770.2 1139.1 764.7 C1191.2 759.2 1243.4 756.7 1295.5 750.9 C1327.1 747.5 1373.2 733.5 1452.0 730.1 C1530.8 726.7 2014.7 718.1 2077.8 716.8" stroke="#00ff00" stroke-width="6.5" fill="none" stroke-linecap="round" stroke-linejoin="round"/><path d="M200.4 1409.8L211.9 1421.3L200.4 1432.8L188.9 1421.3Z" fill="#ccffff" stroke="#ff0000" stroke-width="2.6"/><path d="M239.5 1171.6L251.0 1183.1L239.5 1194.6L228.0 1183.1Z" fill="#ccffff" stroke="#ff0000" stroke-width="2.6"/><path d="M278.6 1061.1L290.1 1072.6L278.6 1084.1L267.1 1072.6Z" fill="#ccffff" stroke="#ff0000" stroke-width="2.6"/><path d="M317.7 1036.2L329.2 1047.7L317.7 1059.2L306.2 1047.7Z" fill="#ccffff" stroke="#ff0000" stroke-width="2.6"/><path d="M356.9 1002.5L368.4 1014.0L356.9 1025.5L345.4 1014.0Z" fill="#ccffff" stroke="#ff0000" stroke-width="2.6"/><path d="M513.3 951.1L524.8 962.6L513.3 974.1L501.8 962.6Z" fill="#ccffff" stroke="#ff0000" stroke-width="2.6"/><path d="M669.8 874.8L681.2 886.3L669.8 897.8L658.2 886.3Z" fill="#ccffff" stroke="#ff0000" stroke-width="2.6"/><path d="M826.2 844.1L837.7 855.6L826.2 867.1L814.7 855.6Z" fill="#ccffff" stroke="#ff0000" stroke-width="2.6"/><path d="M982.6 772.7L994.1 784.2L982.6 795.7L971.1 784.2Z" fill="#ccffff" stroke="#ff0000" stroke-width="2.6"/><path d="M1139.1 753.2L1150.6 764.7L1139.1 776.2L1127.6 764.7Z" fill="#ccffff" stroke="#ff0000" stroke-width="2.6"/><path d="M1295.5 739.4L1307.0 750.9L1295.5 762.4L1284.0 750.9Z" fill="#ccffff" stroke="#ff0000" stroke-width="2.6"/><path d="M1452.0 718.6L1463.5 730.1L1452.0 741.6L1440.5 730.1Z" fill="#ccffff" stroke="#ff0000" stroke-width="2.6"/><path d="M2077.8 705.3L2089.3 716.8L2077.8 728.3L2066.3 716.8Z" fill="#ccffff" stroke="#ff0000" stroke-width="2.6"/></g>
<g><path d="M200.4 1421.3 C206.5 1396.3 227.4 1294.5 239.5 1259.8 C251.6 1225.2 266.5 1213.4 278.6 1197.7 C291.7 1180.8 304.7 1168.3 317.7 1158.7 C325.3 1153.1 338.0 1150.8 356.9 1140.0 C375.7 1129.3 483.2 1062.6 513.3 1046.9 C565.4 1019.6 617.6 995.8 669.8 976.8 C721.9 957.7 774.0 944.5 826.2 932.4 C878.3 920.3 930.5 911.0 982.6 904.0 C1034.8 897.1 1086.9 898.7 1139.1 890.7 C1191.2 882.7 1243.4 862.3 1295.5 856.1 C1326.8 852.4 1373.8 855.5 1452.0 853.4 C1530.2 851.4 2015.2 837.5 2077.8 835.7" stroke="#99cc00" stroke-width="10.0" fill="none" stroke-linecap="round" stroke-linejoin="round"/><path d="M200.4 1410.5L209.7 1430.6L191.1 1430.6Z" fill="#ccffcc"/><path d="M239.5 1249.0L248.8 1269.1L230.2 1269.1Z" fill="#ccffcc"/><path d="M278.6 1186.9L287.9 1207.0L269.3 1207.0Z" fill="#ccffcc"/><path d="M317.7 1147.9L327.0 1168.0L308.4 1168.0Z" fill="#ccffcc"/><path d="M356.9 1129.2L366.2 1149.3L347.6 1149.3Z" fill="#ccffcc"/><path d="M513.3 1036.1L522.6 1056.2L504.0 1056.2Z" fill="#ccffcc"/><path d="M669.8 966.0L679.0 986.1L660.5 986.1Z" fill="#ccffcc"/><path d="M826.2 921.6L835.5 941.7L816.9 941.7Z" fill="#ccffcc"/><path d="M982.6 893.2L991.9 913.3L973.4 913.3Z" fill="#ccffcc"/><path d="M1139.1 879.9L1148.4 900.0L1129.8 900.0Z" fill="#ccffcc"/><path d="M1295.5 845.3L1304.8 865.4L1286.2 865.4Z" fill="#ccffcc"/><path d="M1452.0 842.6L1461.3 862.7L1442.7 862.7Z" fill="#ccffcc"/><path d="M2077.8 824.9L2087.1 845.0L2068.5 845.0Z" fill="#ccffcc"/></g>
<g><path d="M200.4 1421.3 C206.9 1397.8 226.5 1314.7 239.5 1280.2 C252.5 1245.8 265.6 1232.1 278.6 1214.6 C291.7 1197.0 304.7 1186.9 317.7 1175.1 C323.6 1169.8 342.2 1164.0 356.9 1143.6 C371.5 1123.2 489.9 922.6 513.3 902.2 C565.4 856.9 617.6 876.9 669.8 871.6 C721.9 866.3 774.0 879.5 826.2 870.3 C878.3 861.1 930.5 826.1 982.6 816.6 C1034.8 807.1 1086.9 811.5 1139.1 813.1 C1191.2 814.6 1243.4 823.0 1295.5 825.9 C1326.8 827.7 1373.8 828.8 1452.0 830.8 C1530.2 832.8 2015.2 844.8 2077.8 846.3" stroke="#d4a5a5" stroke-width="10.6" fill="none" stroke-linecap="round" stroke-linejoin="round"/><path d="M189.3 1410.2L211.5 1432.4M189.3 1432.4L211.5 1410.2" stroke="#d4a5a5" stroke-width="12.0" stroke-linecap="round" fill="none"/><path d="M228.4 1269.1L250.6 1291.3M228.4 1291.3L250.6 1269.1" stroke="#d4a5a5" stroke-width="12.0" stroke-linecap="round" fill="none"/><path d="M267.5 1203.5L289.7 1225.7M267.5 1225.7L289.7 1203.5" stroke="#d4a5a5" stroke-width="12.0" stroke-linecap="round" fill="none"/><path d="M306.6 1164.0L328.8 1186.2M306.6 1186.2L328.8 1164.0" stroke="#d4a5a5" stroke-width="12.0" stroke-linecap="round" fill="none"/><path d="M345.8 1132.5L368.0 1154.7M345.8 1154.7L368.0 1132.5" stroke="#d4a5a5" stroke-width="12.0" stroke-linecap="round" fill="none"/><path d="M502.2 891.1L524.4 913.3M502.2 913.3L524.4 891.1" stroke="#d4a5a5" stroke-width="12.0" stroke-linecap="round" fill="none"/><path d="M658.6 860.5L680.9 882.7M658.6 882.7L680.9 860.5" stroke="#d4a5a5" stroke-width="12.0" stroke-linecap="round" fill="none"/><path d="M815.1 859.2L837.3 881.4M815.1 881.4L837.3 859.2" stroke="#d4a5a5" stroke-width="12.0" stroke-linecap="round" fill="none"/><path d="M971.5 805.5L993.8 827.7M971.5 827.7L993.8 805.5" stroke="#d4a5a5" stroke-width="12.0" stroke-linecap="round" fill="none"/><path d="M1128.0 802.0L1150.2 824.2M1128.0 824.2L1150.2 802.0" stroke="#d4a5a5" stroke-width="12.0" stroke-linecap="round" fill="none"/><path d="M1284.5 814.8L1306.6 837.0M1284.5 837.0L1306.6 814.8" stroke="#d4a5a5" stroke-width="12.0" stroke-linecap="round" fill="none"/><path d="M1440.9 819.7L1463.1 841.9M1440.9 841.9L1463.1 819.7" stroke="#d4a5a5" stroke-width="12.0" stroke-linecap="round" fill="none"/><path d="M2066.7 835.2L2088.9 857.4M2066.7 857.4L2088.9 835.2" stroke="#d4a5a5" stroke-width="12.0" stroke-linecap="round" fill="none"/></g>
<g font-family="'Liberation Sans',Arial,sans-serif" font-weight="bold" font-size="28.5" fill="#000">
<path d="M248.6 49.6H311.9" stroke="#800000" stroke-width="7.1" stroke-linecap="round"/>
<g class="ns" transform="translate(280.2,49.6) scale(0.56,0.56)"><circle cx="0.0" cy="0.0" r="9.5" fill="#fff" stroke="#800000" stroke-width="3.2"/></g>
<text x="321.5" y="59.4">N1</text>
<path d="M393.2 49.6H457.3" stroke="#008080" stroke-width="6.4" stroke-linecap="round"/>
<g transform="translate(425.2,49.6) scale(0.86,0.80)"><rect x="-9.5" y="-9.5" width="19.0" height="19.0" fill="#ff0000"/><path d="M-8.0 0.0H8.0M0.0 -8.0V8.0" stroke="#ffe600" stroke-width="3.0" fill="none"/></g>
<text x="466.5" y="59.4">N2</text>
<path d="M537.0 49.6H601.5" stroke="#339966" stroke-width="6.0" stroke-linecap="round"/>
<g transform="translate(569.2,49.6) scale(0.74,0.70)"><rect x="-11.0" y="-11.0" width="22.0" height="22.0" fill="#ffff00"/><path d="M-10.0 -10.0L10.0 10.0M-10.0 10.0L10.0 -10.0" stroke="#ff2a00" stroke-width="3.0" fill="none"/></g>
<text x="610.5" y="59.4">N3</text>
<path d="M681.0 49.6H744.5" stroke="#0000ff" stroke-width="7.1" stroke-linecap="round"/>
<g transform="translate(712.8,49.6) scale(0.63,0.77)"><rect x="-7.5" y="-9.2" width="26.0" height="18.5" rx="7.5" fill="#ff0000"/></g>
<text x="754.0" y="59.4">N4</text>
<path d="M825.2 49.6H888.3" stroke="#000080" stroke-width="7.4" stroke-linecap="round"/>
<g transform="translate(856.8,49.6) scale(0.42,0.63)"><path d="M0.0 -12.3L12.3 0.0L0.0 12.3L-12.3 0.0Z" fill="#000080"/></g>
<text x="898.0" y="59.4">N5</text>
<path d="M969.1 49.6H1032.5" stroke="#ff00ff" stroke-width="7.1" stroke-linecap="round"/>
<g transform="translate(1000.9,49.6) scale(0.65,0.60)"><rect x="-12.5" y="-12.5" width="25.0" height="25.0" fill="#ff00ff"/></g>
<text x="1042.1" y="59.4">N6</text>
<path d="M1113.5 49.6H1177.0" stroke="#cc99ff" stroke-width="7.1" stroke-linecap="round"/>
<g transform="translate(1145.2,49.6) scale(0.62,0.58)"><path d="M0.0 -9.3L9.9 10.8L-9.9 10.8Z" fill="#ffff00" stroke="#cc99ff" stroke-width="2.5" stroke-linejoin="miter"/></g>
<text x="1186.5" y="59.4">N7</text>
<path d="M1258.4 49.6H1325.1" stroke="#800080" stroke-width="3.8" stroke-linecap="round"/>
<g class="ns" transform="translate(1291.8,49.6) scale(0.73,0.78)"><path d="M-9.5 -9.5L9.5 9.5M-9.5 9.5L9.5 -9.5M0.0 -9.5V9.5" stroke="#800080" stroke-width="2.6" fill="none"/></g>
<text x="1333.0" y="59.4">N8</text>
<path d="M1403.3 49.6H1467.2" stroke="#00ccff" stroke-width="6.6" stroke-linecap="round"/>
<g class="ns" transform="translate(1435.2,49.6) scale(0.53,0.62)"><path d="M-12.0 0.0H12.0M0.0 -12.0V12.0" stroke="#ff2a2a" stroke-width="3.0" fill="none"/></g>
<text x="1476.5" y="59.4">N9</text>
<path d="M1548.1 49.6H1611.5" stroke="#00ff00" stroke-width="7.1" stroke-linecap="round"/>
<g class="ns" transform="translate(1579.8,49.6) scale(0.54,0.61)"><path d="M0.0 -11.5L11.5 0.0L0.0 11.5L-11.5 0.0Z" fill="#ccffff" stroke="#ff0000" stroke-width="2.6"/></g>
<text x="1621.1" y="59.4">N10</text>
<path d="M1708.3 49.6H1772.2" stroke="#99cc00" stroke-width="10.6" stroke-linecap="round"/>
<g transform="translate(1740.2,49.6) scale(0.74,0.74)"><path d="M0.0 -10.8L9.3 9.3L-9.3 9.3Z" fill="#ccffcc"/></g>
<text x="1781.5" y="59.4">N11</text>
<path d="M1869.1 49.6H1932.4" stroke="#d4a5a5" stroke-width="11.2" stroke-linecap="round"/>
<g transform="translate(1900.8,49.6) scale(0.50,0.60)"><path d="M-11.1 -11.1L11.1 11.1M-11.1 11.1L11.1 -11.1" stroke="#d4a5a5" stroke-width="12.0" stroke-linecap="round" fill="none"/></g>
<text x="1942.0" y="59.4">N_Optimal</text>
</g>
</svg>
</body></html>
